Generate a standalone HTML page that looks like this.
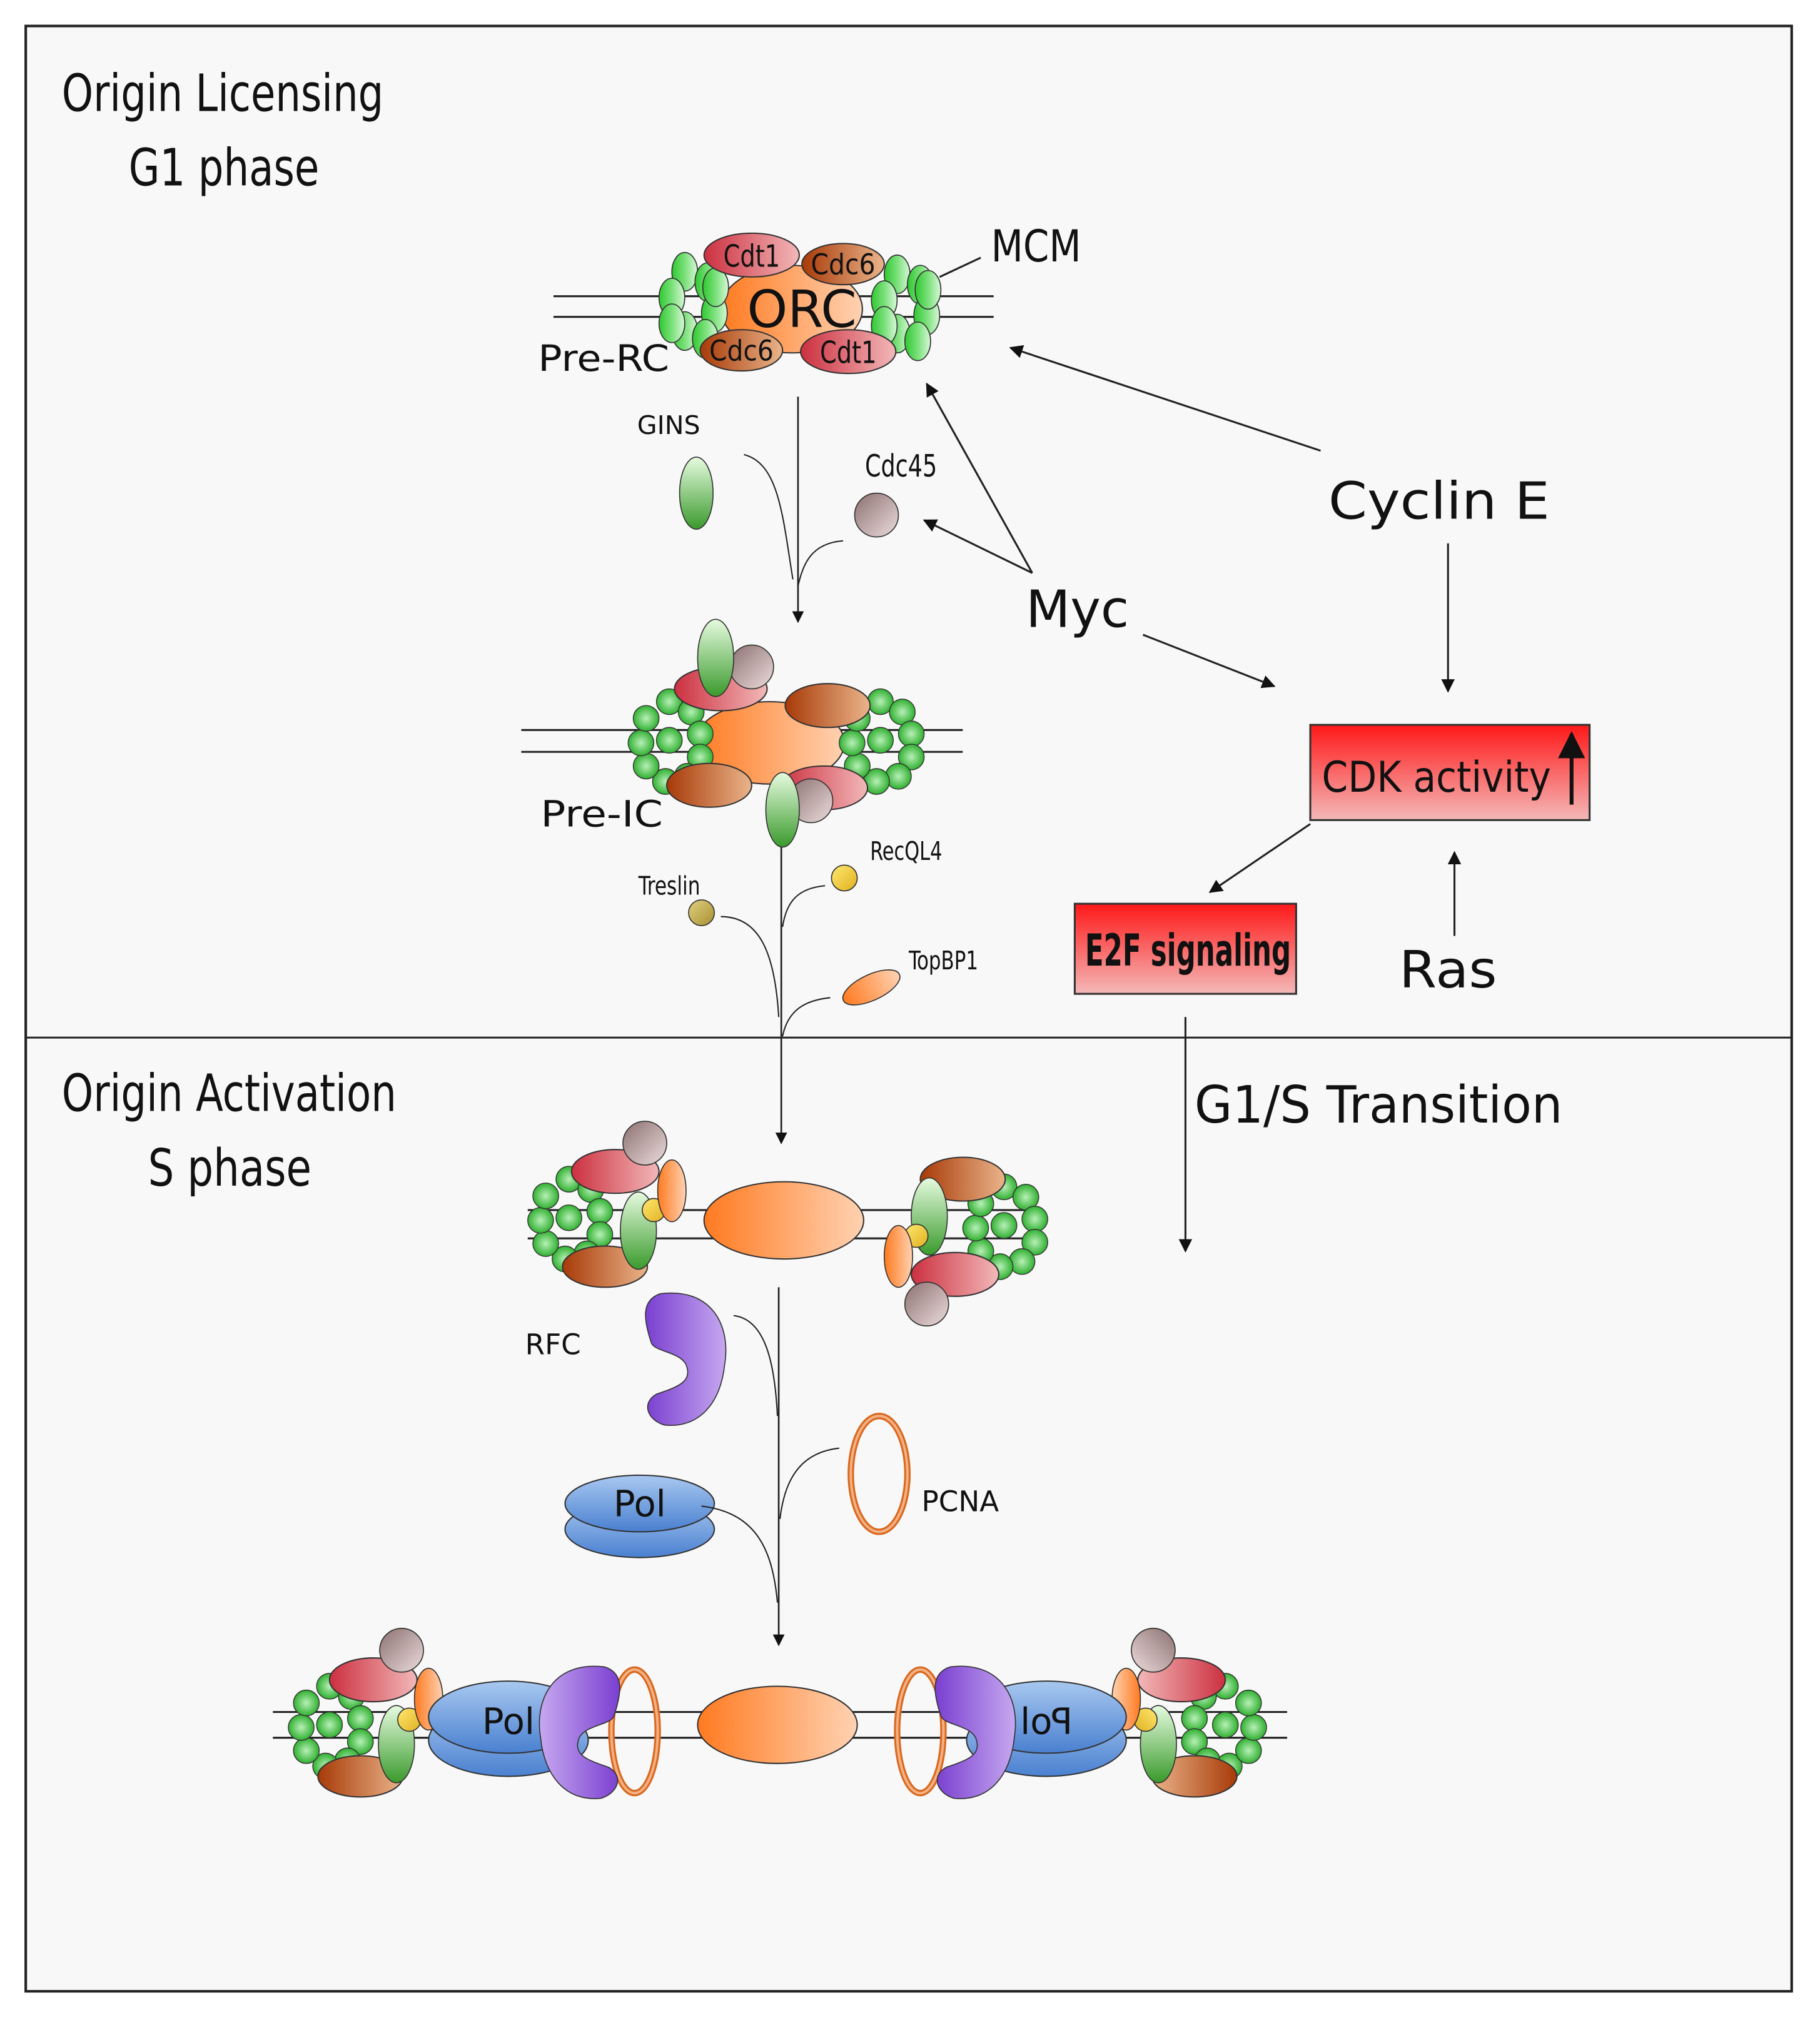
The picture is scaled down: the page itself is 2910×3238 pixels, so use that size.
<!DOCTYPE html>
<html><head><meta charset="utf-8"><style>
html,body{margin:0;padding:0;background:#fff}
svg{display:block}
text{font-family:"DejaVu Sans","Liberation Sans",sans-serif;fill:#111}
.n{font-family:"DejaVu Sans Condensed","Liberation Sans Narrow","Liberation Sans",sans-serif}
</style></head><body>
<svg width="2910" height="3238" viewBox="0 0 1414 1573" xmlns="http://www.w3.org/2000/svg">
<defs>
<linearGradient id="gG" x1="0" y1="0" x2="0" y2="1"><stop offset="0" stop-color="#e6fbdf"/><stop offset="1" stop-color="#3a9a2c"/></linearGradient>
<linearGradient id="gB" x1="0" y1="0" x2="1" y2="0"><stop offset="0" stop-color="#2fc82f"/><stop offset=".5" stop-color="#7ae07a"/><stop offset="1" stop-color="#d8f8d8"/></linearGradient>
<linearGradient id="gO" x1="0" y1="0" x2="1" y2="0"><stop offset="0" stop-color="#ff7a20"/><stop offset="1" stop-color="#ffd2b2"/></linearGradient>
<linearGradient id="gR" x1="0" y1="0" x2="1" y2="0"><stop offset="0" stop-color="#cc3040"/><stop offset="1" stop-color="#f2b8b8"/></linearGradient>
<linearGradient id="gBr" x1="0" y1="0" x2="1" y2="0"><stop offset="0" stop-color="#a83a08"/><stop offset="1" stop-color="#eab48a"/></linearGradient>
<linearGradient id="gP" x1="0" y1="0" x2="1" y2="1"><stop offset="0" stop-color="#8c7070"/><stop offset="1" stop-color="#ecdcdc"/></linearGradient>
<linearGradient id="gV" x1="0" y1="0" x2="1" y2="0"><stop offset="0" stop-color="#7a3fd0"/><stop offset="1" stop-color="#c6a8f0"/></linearGradient>
<linearGradient id="gBl" x1="0" y1="0" x2="0" y2="1"><stop offset="0" stop-color="#a8c8f0"/><stop offset="1" stop-color="#4a80d0"/></linearGradient>
<linearGradient id="gY" x1="0" y1="0" x2="1" y2="1"><stop offset="0" stop-color="#ffe870"/><stop offset="1" stop-color="#e0b020"/></linearGradient>
<linearGradient id="gT" x1="0" y1="0" x2="1" y2="1"><stop offset="0" stop-color="#e0d080"/><stop offset="1" stop-color="#a89030"/></linearGradient>
<linearGradient id="gCdk" x1="0" y1="0" x2="0" y2="1"><stop offset="0" stop-color="#ff1818"/><stop offset="1" stop-color="#f4b8b8"/></linearGradient>
<radialGradient id="gC" cx=".5" cy=".5" r=".5"><stop offset="0" stop-color="#b8f0b8"/><stop offset="1" stop-color="#30b030"/></radialGradient>
<marker id="ah" viewBox="0 0 10 10" refX="9" refY="5" markerWidth="7" markerHeight="7" orient="auto-start-reverse"><path d="M0,0 L10,5 L0,10 z" fill="#111"/></marker>
<g id="mcm" stroke="#333" stroke-width=".8" fill="url(#gB)">
<ellipse cx="-8" cy="-26" rx="10" ry="15"/><ellipse cx="10" cy="-18" rx="10" ry="15"/>
<ellipse cx="-18" cy="-6" rx="10" ry="15"/><ellipse cx="15" cy="6" rx="10" ry="15"/>
<ellipse cx="-8" cy="20" rx="10" ry="15"/><ellipse cx="8" cy="26" rx="10" ry="15"/>
<ellipse cx="-18" cy="14" rx="10" ry="15"/><ellipse cx="16" cy="-14" rx="10" ry="15"/>
</g>
<g id="ring" stroke="#333" stroke-width=".7" fill="url(#gC)">
<circle cx="0" cy="-30" r="10"/><circle cx="17" cy="-22" r="10"/><circle cx="24" cy="-5" r="10"/><circle cx="24" cy="13" r="10"/><circle cx="14" cy="28" r="10"/><circle cx="-3" cy="32" r="10"/><circle cx="-18" cy="20" r="10"/><circle cx="-22" cy="2" r="10"/><circle cx="-18" cy="-17" r="10"/><circle cx="0" cy="0" r="10"/>
</g>
<path id="rfc" d="M-15,-50 C25,-55 40,-25 35,5 C32,35 15,55 -12,52 C-25,48 -30,35 -18,28 C0,22 10,18 5,5 C0,-5 -20,-5 -22,-12 C-28,-30 -30,-45 -15,-50 z" fill="url(#gV)" stroke="#333" stroke-width=".8"/>
</defs>

<rect x="20" y="20" width="1372" height="1527" fill="#f8f8f8" stroke="#222" stroke-width="2"/>
<line x1="20" y1="806" x2="1392" y2="806" stroke="#222" stroke-width="1.5"/>

<text x="48" y="86" class="n" font-size="40" textLength="250" lengthAdjust="spacingAndGlyphs">Origin Licensing</text>
<text x="100" y="144" class="n" font-size="40" textLength="148" lengthAdjust="spacingAndGlyphs">G1 phase</text>
<text x="48" y="863" class="n" font-size="40" textLength="260" lengthAdjust="spacingAndGlyphs">Origin Activation</text>
<text x="115" y="921" class="n" font-size="40" textLength="127" lengthAdjust="spacingAndGlyphs">S phase</text>

<!-- Pre-RC -->
<g stroke="#222" stroke-width="1.5"><line x1="430" y1="230" x2="772" y2="230"/><line x1="430" y1="246" x2="772" y2="246"/></g>
<ellipse cx="615" cy="240" rx="55" ry="34" fill="url(#gO)" stroke="#333"/>
<use href="#mcm" x="540" y="237"/><use href="#mcm" x="705" y="239"/>
<ellipse cx="584" cy="198" rx="37" ry="17" fill="url(#gR)" stroke="#333"/>
<ellipse cx="655" cy="205" rx="32" ry="16" fill="url(#gBr)" stroke="#333"/>
<ellipse cx="576" cy="272" rx="32" ry="16" fill="url(#gBr)" stroke="#333"/>
<ellipse cx="659" cy="273" rx="37" ry="17" fill="url(#gR)" stroke="#333"/>
<text x="584" y="207" class="n" font-size="24" text-anchor="middle" textLength="44" lengthAdjust="spacingAndGlyphs">Cdt1</text>
<text x="655" y="213" class="n" font-size="22" text-anchor="middle" textLength="50" lengthAdjust="spacingAndGlyphs">Cdc6</text>
<text x="576" y="280" class="n" font-size="22" text-anchor="middle" textLength="50" lengthAdjust="spacingAndGlyphs">Cdc6</text>
<text x="659" y="282" class="n" font-size="24" text-anchor="middle" textLength="44" lengthAdjust="spacingAndGlyphs">Cdt1</text>
<text x="623" y="254" font-size="40" text-anchor="middle">ORC</text>
<line x1="730" y1="215" x2="762" y2="200" stroke="#222" stroke-width="1.5"/>
<text x="770" y="203" font-size="34" textLength="70" lengthAdjust="spacingAndGlyphs">MCM</text>
<text x="418" y="288" font-size="28" textLength="102" lengthAdjust="spacingAndGlyphs">Pre-RC</text>

<!-- GINS / Cdc45 -->
<line x1="620" y1="308" x2="620" y2="483" stroke="#222" stroke-width="1.3" marker-end="url(#ah)"/>
<text x="495" y="337" font-size="20">GINS</text>
<ellipse cx="541" cy="383" rx="13" ry="28" fill="url(#gG)" stroke="#333" stroke-width=".8"/>
<path d="M578,353 C605,360 608,400 616,450" fill="none" stroke="#222"/>
<text x="672" y="370" class="n" font-size="24" textLength="56" lengthAdjust="spacingAndGlyphs">Cdc45</text>
<circle cx="681" cy="400" r="17" fill="url(#gP)" stroke="#333" stroke-width=".8"/>
<path d="M655,420 C630,422 624,438 620,455" fill="none" stroke="#222"/>

<!-- Myc / Cyclin E -->
<text x="797" y="487" font-size="40">Myc</text>
<line x1="802" y1="445" x2="720" y2="298" stroke="#222" stroke-width="1.5" marker-end="url(#ah)"/>
<line x1="802" y1="445" x2="718" y2="404" stroke="#222" stroke-width="1.5" marker-end="url(#ah)"/>
<line x1="888" y1="493" x2="990" y2="533" stroke="#222" stroke-width="1.5" marker-end="url(#ah)"/>
<text x="1032" y="403" font-size="40" textLength="172" lengthAdjust="spacingAndGlyphs">Cyclin E</text>
<line x1="1026" y1="350" x2="785" y2="270" stroke="#222" stroke-width="1.5" marker-end="url(#ah)"/>
<line x1="1125" y1="422" x2="1125" y2="537" stroke="#222" stroke-width="1.5" marker-end="url(#ah)"/>
<rect x="1018" y="563" width="217" height="74" fill="url(#gCdk)" stroke="#333" stroke-width="1.5"/>
<text x="1027" y="615" font-size="33" textLength="178" lengthAdjust="spacingAndGlyphs">CDK activity</text>
<line x1="1221" y1="625" x2="1221" y2="570" stroke="#111" stroke-width="3" marker-end="url(#ah)"/>
<line x1="1018" y1="640" x2="940" y2="693" stroke="#222" stroke-width="1.5" marker-end="url(#ah)"/>
<rect x="835" y="702" width="172" height="70" fill="url(#gCdk)" stroke="#333" stroke-width="1.5"/>
<text x="843" y="750" class="n" font-size="34" font-weight="bold" textLength="160" lengthAdjust="spacingAndGlyphs">E2F signaling</text>
<text x="1087" y="767" font-size="40" textLength="76" lengthAdjust="spacingAndGlyphs">Ras</text>
<line x1="1130" y1="727" x2="1130" y2="662" stroke="#222" stroke-width="1.5" marker-end="url(#ah)"/>
<line x1="921" y1="790" x2="921" y2="972" stroke="#222" stroke-width="1.5" marker-end="url(#ah)"/>
<text x="928" y="872" font-size="40" textLength="286" lengthAdjust="spacingAndGlyphs">G1/S Transition</text>

<!-- Pre-IC -->
<g stroke="#222" stroke-width="1.5"><line x1="405" y1="567" x2="748" y2="567"/><line x1="405" y1="584" x2="748" y2="584"/></g>
<ellipse cx="598" cy="577" rx="58" ry="32" fill="url(#gO)" stroke="#333"/>
<use href="#ring" x="520" y="575"/><use href="#ring" x="684" y="575"/>
<ellipse cx="560" cy="535" rx="36" ry="17" fill="url(#gR)" stroke="#333"/>
<ellipse cx="643" cy="548" rx="33" ry="17" fill="url(#gBr)" stroke="#333"/>
<ellipse cx="551" cy="610" rx="33" ry="17" fill="url(#gBr)" stroke="#333"/>
<ellipse cx="640" cy="612" rx="34" ry="17" fill="url(#gR)" stroke="#333"/>
<circle cx="584" cy="518" r="17" fill="url(#gP)" stroke="#333" stroke-width=".8"/>
<ellipse cx="556" cy="511" rx="14" ry="30" fill="url(#gG)" stroke="#333" stroke-width=".8"/>
<circle cx="630" cy="622" r="17" fill="url(#gP)" stroke="#333" stroke-width=".8"/>
<ellipse cx="608" cy="629" rx="13" ry="29" fill="url(#gG)" stroke="#333" stroke-width=".8"/>
<text x="420" y="642" font-size="28" textLength="95" lengthAdjust="spacingAndGlyphs">Pre-IC</text>

<line x1="607" y1="658" x2="607" y2="888" stroke="#222" stroke-width="1.3" marker-end="url(#ah)"/>
<text x="496" y="695" class="n" font-size="20" textLength="48" lengthAdjust="spacingAndGlyphs">Treslin</text>
<circle cx="545" cy="709" r="10" fill="url(#gT)" stroke="#333" stroke-width=".8"/>
<path d="M560,712 C590,712 602,740 605,790" fill="none" stroke="#222"/>
<text x="676" y="668" class="n" font-size="20" textLength="56" lengthAdjust="spacingAndGlyphs">RecQL4</text>
<circle cx="656" cy="682" r="10" fill="url(#gY)" stroke="#333" stroke-width=".8"/>
<path d="M641,688 C620,690 611,700 608,720" fill="none" stroke="#222"/>
<text x="706" y="753" class="n" font-size="20" textLength="54" lengthAdjust="spacingAndGlyphs">TopBP1</text>
<ellipse cx="677" cy="767" rx="24" ry="10" transform="rotate(-25 677 767)" fill="url(#gO)" stroke="#333" stroke-width=".8"/>
<path d="M645,775 C625,777 612,785 608,805" fill="none" stroke="#222"/>

<!-- S phase complex 1 -->
<g stroke="#222" stroke-width="1.5"><line x1="410" y1="940" x2="810" y2="940"/><line x1="410" y1="962" x2="810" y2="962"/></g>
<use href="#ring" x="442" y="946"/><use href="#ring" x="780" y="952"/>
<ellipse cx="609" cy="948" rx="62" ry="30" fill="url(#gO)" stroke="#333"/>
<ellipse cx="478" cy="910" rx="34" ry="17" fill="url(#gR)" stroke="#333"/>
<ellipse cx="470" cy="984" rx="33" ry="16" fill="url(#gBr)" stroke="#333"/>
<circle cx="501" cy="888" r="17" fill="url(#gP)" stroke="#333" stroke-width=".8"/>
<ellipse cx="496" cy="956" rx="14" ry="30" fill="url(#gG)" stroke="#333" stroke-width=".8"/>
<circle cx="508" cy="940" r="9" fill="url(#gY)" stroke="#333" stroke-width=".8"/>
<ellipse cx="522" cy="925" rx="11" ry="24" fill="url(#gO)" stroke="#333" stroke-width=".8"/>
<ellipse cx="748" cy="916" rx="33" ry="17" fill="url(#gBr)" stroke="#333"/>
<ellipse cx="742" cy="990" rx="34" ry="17" fill="url(#gR)" stroke="#333"/>
<circle cx="720" cy="1013" r="17" fill="url(#gP)" stroke="#333" stroke-width=".8"/>
<ellipse cx="722" cy="945" rx="14" ry="30" fill="url(#gG)" stroke="#333" stroke-width=".8"/>
<circle cx="712" cy="960" r="9" fill="url(#gY)" stroke="#333" stroke-width=".8"/>
<ellipse cx="698" cy="976" rx="11" ry="24" fill="url(#gO)" stroke="#333" stroke-width=".8"/>

<line x1="605" y1="1000" x2="605" y2="1278" stroke="#222" stroke-width="1.3" marker-end="url(#ah)"/>
<text x="408" y="1052" font-size="22">RFC</text>
<use href="#rfc" x="528" y="1055"/>
<path d="M570,1022 C595,1025 602,1060 604,1100" fill="none" stroke="#222"/>
<ellipse cx="683" cy="1145" rx="22" ry="45" fill="none" stroke="#d86820" stroke-width="5"/>
<ellipse cx="683" cy="1145" rx="22" ry="45" fill="none" stroke="#f4b080" stroke-width="2"/>
<text x="716" y="1174" font-size="22">PCNA</text>
<path d="M652,1125 C625,1128 610,1145 606,1180" fill="none" stroke="#222"/>
<ellipse cx="497" cy="1188" rx="58" ry="22" fill="url(#gBl)" stroke="#333"/>
<ellipse cx="497" cy="1168" rx="58" ry="22" fill="url(#gBl)" stroke="#333"/>
<text x="497" y="1178" font-size="28" text-anchor="middle">Pol</text>
<path d="M545,1170 C585,1175 600,1200 604,1245" fill="none" stroke="#222"/>

<!-- Bottom complex -->
<g stroke="#222" stroke-width="1.5"><line x1="212" y1="1330" x2="1000" y2="1330"/><line x1="212" y1="1350" x2="1000" y2="1350"/></g>
<ellipse cx="604" cy="1340" rx="62" ry="30" fill="url(#gO)" stroke="#333"/>
<g id="half">
<use href="#ring" x="256" y="1340"/>
<ellipse cx="290" cy="1305" rx="34" ry="17" fill="url(#gR)" stroke="#333"/>
<ellipse cx="280" cy="1380" rx="33" ry="16" fill="url(#gBr)" stroke="#333"/>
<circle cx="312" cy="1282" r="17" fill="url(#gP)" stroke="#333" stroke-width=".8"/>
<ellipse cx="308" cy="1355" rx="14" ry="30" fill="url(#gG)" stroke="#333" stroke-width=".8"/>
<circle cx="318" cy="1336" r="9" fill="url(#gY)" stroke="#333" stroke-width=".8"/>
<ellipse cx="333" cy="1320" rx="11" ry="24" fill="url(#gO)" stroke="#333" stroke-width=".8"/>
<ellipse cx="395" cy="1352" rx="62" ry="28" fill="url(#gBl)" stroke="#333"/>
<ellipse cx="395" cy="1334" rx="62" ry="28" fill="url(#gBl)" stroke="#333"/>
<text x="395" y="1347" font-size="28" text-anchor="middle">Pol</text>
<ellipse cx="493" cy="1345" rx="18" ry="48" fill="none" stroke="#d86820" stroke-width="5"/>
<ellipse cx="493" cy="1345" rx="18" ry="48" fill="none" stroke="#f4b080" stroke-width="2"/>
<use href="#rfc" x="455" y="1345" transform="translate(910 0) scale(-1 1)"/>
</g>
<use href="#half" transform="translate(1208 0) scale(-1 1)"/>
</svg>
</body></html>
